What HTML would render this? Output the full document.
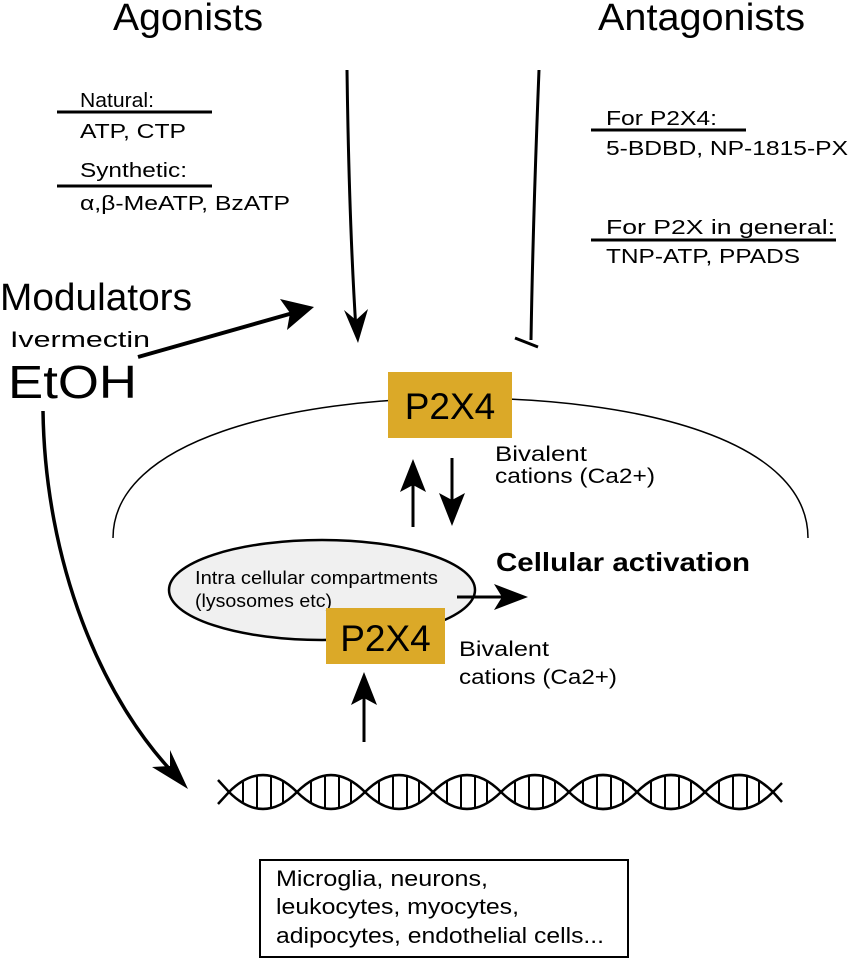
<!DOCTYPE html>
<html><head><meta charset="utf-8"><style>
html,body{margin:0;padding:0;background:#fff;}
svg{display:block;font-family:"Liberation Sans",sans-serif;}
</style></head><body>
<svg width="850" height="962" viewBox="0 0 850 962" xmlns="http://www.w3.org/2000/svg">
<rect width="850" height="962" fill="#fff"/>
<!-- titles -->
<text x="113" y="30" font-size="38" textLength="150" lengthAdjust="spacingAndGlyphs">Agonists</text>
<text x="598" y="30" font-size="38" textLength="207" lengthAdjust="spacingAndGlyphs">Antagonists</text>
<text x="80" y="107" font-size="20" textLength="74" lengthAdjust="spacingAndGlyphs">Natural:</text>
<line x1="57" y1="112" x2="212" y2="112" stroke="#000" stroke-width="3"/>
<text x="80" y="138" font-size="20" textLength="106" lengthAdjust="spacingAndGlyphs">ATP, CTP</text>
<text x="80" y="177" font-size="20" textLength="107" lengthAdjust="spacingAndGlyphs">Synthetic:</text>
<line x1="57" y1="186" x2="212" y2="186" stroke="#000" stroke-width="3"/>
<text x="80" y="210" font-size="20" textLength="210" lengthAdjust="spacingAndGlyphs">α,β-MeATP, BzATP</text>
<text x="606" y="125" font-size="20" textLength="111" lengthAdjust="spacingAndGlyphs">For P2X4:</text>
<line x1="591" y1="130" x2="746" y2="130" stroke="#000" stroke-width="3"/>
<text x="606" y="155" font-size="20" textLength="242" lengthAdjust="spacingAndGlyphs">5-BDBD, NP-1815-PX</text>
<text x="606" y="234" font-size="20" textLength="229" lengthAdjust="spacingAndGlyphs">For P2X in general:</text>
<line x1="591" y1="240" x2="836" y2="240" stroke="#000" stroke-width="3"/>
<text x="606" y="263" font-size="20" textLength="194" lengthAdjust="spacingAndGlyphs">TNP-ATP, PPADS</text>
<text x="0" y="310" font-size="38" textLength="192" lengthAdjust="spacingAndGlyphs">Modulators</text>
<text x="10" y="347" font-size="22" textLength="140" lengthAdjust="spacingAndGlyphs">Ivermectin</text>
<text x="8" y="398" font-size="46" textLength="129" lengthAdjust="spacingAndGlyphs">EtOH</text>
<!-- agonist arrow -->
<path d="M347,70 Q349,220 356,330" fill="none" stroke="#000" stroke-width="3"/>
<polygon points="358,343 344,310 356,320 368,309" fill="#000"/>
<!-- antagonist -->
<path d="M539,70 Q533,220 531,340" fill="none" stroke="#000" stroke-width="3"/>
<line x1="515" y1="338" x2="538" y2="347" stroke="#000" stroke-width="3"/>
<!-- modulator arrow -->
<line x1="138" y1="357" x2="300" y2="311" stroke="#000" stroke-width="4"/>
<polygon points="314,307 280,299 290,313 287,330" fill="#000"/>
<!-- EtOH curve -->
<path d="M43,411 C45,560 100,700 180,780" fill="none" stroke="#000" stroke-width="3.5"/>
<polygon points="188,789 152,767 170,766 170,750" fill="#000"/>
<!-- membrane -->
<path d="M113,538 C113,440 290,398 460,398 C640,398 808,440 808,538" fill="none" stroke="#000" stroke-width="1.5"/>
<!-- P2X4 top -->
<rect x="388" y="372" width="124" height="66" fill="#dba928"/>
<text x="450" y="419" font-size="37" text-anchor="middle">P2X4</text>
<text x="495" y="461" font-size="21" textLength="92" lengthAdjust="spacingAndGlyphs">Bivalent</text>
<text x="495" y="483" font-size="21" textLength="160" lengthAdjust="spacingAndGlyphs">cations (Ca2+)</text>
<!-- up/down arrows -->
<line x1="413" y1="527" x2="413" y2="475" stroke="#000" stroke-width="3"/>
<polygon points="413,459 400,492 413,485 426,492" fill="#000"/>
<line x1="452" y1="458" x2="452" y2="510" stroke="#000" stroke-width="3"/>
<polygon points="452,526 439,493 452,500 465,493" fill="#000"/>
<!-- compartment ellipse -->
<ellipse cx="322" cy="590" rx="153" ry="50" fill="#f0f0f0" stroke="#000" stroke-width="2.5"/>
<text x="195" y="584" font-size="18" textLength="243" lengthAdjust="spacingAndGlyphs">Intra cellular  compartments</text>
<text x="195" y="607" font-size="18" textLength="137" lengthAdjust="spacingAndGlyphs">(lysosomes etc)</text>
<line x1="457" y1="597" x2="510" y2="597" stroke="#000" stroke-width="3"/>
<polygon points="528,597 494,584 502,597 494,610" fill="#000"/>
<text x="496" y="571" font-size="26" font-weight="bold" textLength="254" lengthAdjust="spacingAndGlyphs">Cellular activation</text>
<!-- P2X4 bottom -->
<rect x="326" y="608" width="119" height="56" fill="#dba928"/>
<text x="385.5" y="651" font-size="37" text-anchor="middle">P2X4</text>
<text x="459" y="656" font-size="21" textLength="90" lengthAdjust="spacingAndGlyphs">Bivalent</text>
<text x="459" y="684" font-size="21" textLength="158" lengthAdjust="spacingAndGlyphs">cations (Ca2+)</text>
<line x1="364" y1="742" x2="364" y2="690" stroke="#000" stroke-width="3"/>
<polygon points="364,672 351,705 364,698 377,705" fill="#000"/>
<!-- DNA -->
<g fill="none" stroke="#000" stroke-width="2.5">
<path d="M218,780 L229,792 Q263,758 297,792 T365,792 T433,792 T501,792 T569,792 T637,792 T705,792 T773,792 L782,783"/>
<path d="M218,804 L229,792 Q263,826 297,792 T365,792 T433,792 T501,792 T569,792 T637,792 T705,792 T773,792 L782,802"/>
</g>
<g stroke="#000" stroke-width="2">
<line x1="243" y1="782" x2="243" y2="802"/><line x1="257" y1="776" x2="257" y2="808"/><line x1="271" y1="776" x2="271" y2="808"/><line x1="283" y1="782" x2="283" y2="802"/>
<line x1="311" y1="782" x2="311" y2="802"/><line x1="325" y1="776" x2="325" y2="808"/><line x1="339" y1="776" x2="339" y2="808"/><line x1="351" y1="782" x2="351" y2="802"/>
<line x1="379" y1="782" x2="379" y2="802"/><line x1="393" y1="776" x2="393" y2="808"/><line x1="407" y1="776" x2="407" y2="808"/><line x1="419" y1="782" x2="419" y2="802"/>
<line x1="447" y1="782" x2="447" y2="802"/><line x1="461" y1="776" x2="461" y2="808"/><line x1="475" y1="776" x2="475" y2="808"/><line x1="487" y1="782" x2="487" y2="802"/>
<line x1="515" y1="782" x2="515" y2="802"/><line x1="529" y1="776" x2="529" y2="808"/><line x1="543" y1="776" x2="543" y2="808"/><line x1="555" y1="782" x2="555" y2="802"/>
<line x1="583" y1="782" x2="583" y2="802"/><line x1="597" y1="776" x2="597" y2="808"/><line x1="611" y1="776" x2="611" y2="808"/><line x1="623" y1="782" x2="623" y2="802"/>
<line x1="651" y1="782" x2="651" y2="802"/><line x1="665" y1="776" x2="665" y2="808"/><line x1="679" y1="776" x2="679" y2="808"/><line x1="691" y1="782" x2="691" y2="802"/>
<line x1="719" y1="782" x2="719" y2="802"/><line x1="733" y1="776" x2="733" y2="808"/><line x1="747" y1="776" x2="747" y2="808"/><line x1="759" y1="782" x2="759" y2="802"/>
</g>
<!-- cell types box -->
<rect x="260" y="860" width="368" height="97" fill="#fff" stroke="#000" stroke-width="2"/>
<text x="276" y="886" font-size="22" textLength="212" lengthAdjust="spacingAndGlyphs">Microglia, neurons,</text>
<text x="276" y="914" font-size="22" textLength="243" lengthAdjust="spacingAndGlyphs">leukocytes, myocytes,</text>
<text x="276" y="943" font-size="22" textLength="328" lengthAdjust="spacingAndGlyphs">adipocytes, endothelial cells...</text>
</svg>
</body></html>
